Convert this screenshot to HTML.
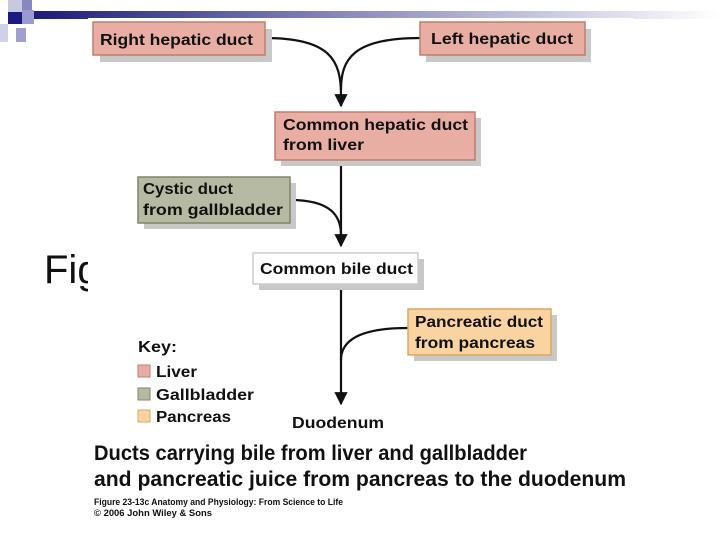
<!DOCTYPE html>
<html><head><meta charset="utf-8"><style>
html,body{margin:0;padding:0;width:720px;height:540px;overflow:hidden;background:#fff}
svg{display:block}
text{font-family:"Liberation Sans",sans-serif;font-weight:bold;fill:#111}
</style></head><body>
<svg width="720" height="540" viewBox="0 0 720 540">
<defs>
<linearGradient id="g" x1="0" x2="1"><stop offset="0" stop-color="#1a1a7a"/><stop offset="0.45" stop-color="#8888bb"/><stop offset="1" stop-color="#fff"/></linearGradient>
<marker id="a" viewBox="0 0 10 10" refX="9" refY="5" markerWidth="6" markerHeight="6" orient="auto"><path d="M0,0 L10,5 L0,10 z" fill="#111"/></marker>
</defs>
<rect x="30" y="11" width="690" height="8" fill="url(#g)"/>
<rect x="8" y="0" width="14" height="12" fill="#c8c8e0"/>
<rect x="22" y="0" width="10" height="10" fill="#8888c0"/>
<rect x="8" y="12" width="14" height="12" fill="#1a1a80"/>
<rect x="22" y="10" width="12" height="14" fill="#9a9ad0"/>
<rect x="0" y="24" width="8" height="18" fill="#d0d0e8"/>
<rect x="16" y="28" width="10" height="14" fill="#a0a0d0"/>
<text x="44" y="283" font-size="40" style="font-weight:normal" fill="#000">Fig</text>
<rect x="88" y="18" width="545" height="505" fill="#fff"/>
<g stroke="#111" stroke-width="2.2" fill="none">
<path d="M265,38 C330,38 341,60 341,95 L341,106" marker-end="url(#a)"/>
<path d="M420,38 C352,38 341,60 341,90"/>
<path d="M341,160 L341,246" marker-end="url(#a)"/>
<path d="M290,200 C330,200 341,215 341,235"/>
<path d="M341,284 L341,404" marker-end="url(#a)"/>
<path d="M408,328 C360,328 341,340 341,360"/>
</g>
<g fill="#c8c8c8">
<rect x="100" y="29" width="172" height="33"/>
<rect x="426" y="29" width="165" height="33"/>
<rect x="281" y="118" width="200" height="48"/>
<rect x="144" y="183" width="152" height="46"/>
<rect x="259" y="259" width="165" height="31"/>
<rect x="414" y="315" width="143" height="46"/>
</g>
<g stroke-width="1.5">
<rect x="93" y="22" width="172" height="33" fill="#e8aea4" stroke="#c07c70"/>
<rect x="420" y="22" width="165" height="33" fill="#e8aea4" stroke="#c07c70"/>
<rect x="275" y="112" width="200" height="48" fill="#e8aea4" stroke="#c07c70"/>
<rect x="138" y="177" width="152" height="46" fill="#b7baa3" stroke="#7f8468"/>
<rect x="253" y="253" width="165" height="31" fill="#fff" stroke="#ccc"/>
<rect x="408" y="309" width="143" height="46" fill="#f9d3a0" stroke="#d8a860"/>
</g>
<g font-size="16" lengthAdjust="spacingAndGlyphs">
<text x="100" y="45" textLength="153" lengthAdjust="spacingAndGlyphs">Right hepatic duct</text>
<text x="431" y="44" textLength="142" lengthAdjust="spacingAndGlyphs">Left hepatic duct</text>
<text x="283" y="130" textLength="185" lengthAdjust="spacingAndGlyphs">Common hepatic duct</text>
<text x="283" y="150" textLength="81" lengthAdjust="spacingAndGlyphs">from liver</text>
<text x="143" y="194" textLength="90" lengthAdjust="spacingAndGlyphs">Cystic duct</text>
<text x="143" y="215" textLength="140" lengthAdjust="spacingAndGlyphs">from gallbladder</text>
<text x="260" y="274" textLength="153" lengthAdjust="spacingAndGlyphs">Common bile duct</text>
<text x="415" y="327" textLength="128" lengthAdjust="spacingAndGlyphs">Pancreatic duct</text>
<text x="415" y="348" textLength="120" lengthAdjust="spacingAndGlyphs">from pancreas</text>
<text x="138" y="352" textLength="39" lengthAdjust="spacingAndGlyphs">Key:</text>
<text x="156" y="377" textLength="41" lengthAdjust="spacingAndGlyphs">Liver</text>
<text x="156" y="400" textLength="98" lengthAdjust="spacingAndGlyphs">Gallbladder</text>
<text x="156" y="422" textLength="75" lengthAdjust="spacingAndGlyphs">Pancreas</text>
<text x="292" y="428" textLength="92" lengthAdjust="spacingAndGlyphs">Duodenum</text>
</g>
<rect x="138" y="365" width="12" height="12" fill="#e8aea4" stroke="#c07c70"/>
<rect x="138" y="388" width="12" height="12" fill="#b7baa3" stroke="#7f8468"/>
<rect x="138" y="410" width="12" height="12" fill="#f9d3a0" stroke="#d8a860"/>
<text x="94" y="460" font-size="21" textLength="433" lengthAdjust="spacingAndGlyphs">Ducts carrying bile from liver and gallbladder</text>
<text x="94" y="486" font-size="21" textLength="532" lengthAdjust="spacingAndGlyphs">and pancreatic juice from pancreas to the duodenum</text>
<text x="94" y="505" font-size="9" textLength="249" lengthAdjust="spacingAndGlyphs">Figure 23-13c  Anatomy and Physiology: From Science to Life</text>
<text x="94" y="516" font-size="9" textLength="118" lengthAdjust="spacingAndGlyphs">© 2006 John Wiley &amp; Sons</text>
</svg>
</body></html>
